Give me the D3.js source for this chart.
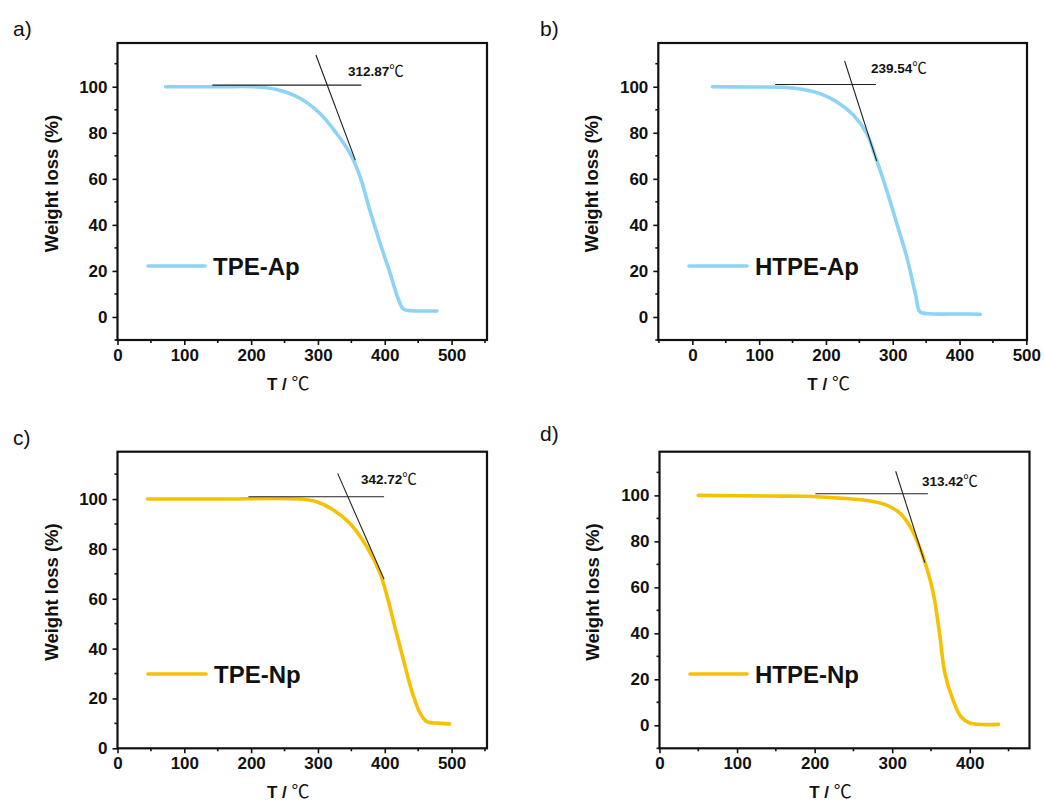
<!DOCTYPE html>
<html><head><meta charset="utf-8">
<script src="https://cdn.jsdelivr.net/npm/d3@7"></script>
<style>
body{margin:0;background:#fff}
text{font-family:"Liberation Sans",Arial,Helvetica,sans-serif}
</style>
</head><body>
<svg id="chart" width="1045" height="802"></svg>
<script>
// ---------- data ----------
const panelLabels = ["a)", "b)", "c)", "d)"];
const seriesNames = ["TPE-Ap", "HTPE-Ap", "TPE-Np", "HTPE-Np"];
const onsetLabels = ["312.87", "239.54", "342.72", "313.42"];
const xTicksAB = [0, 100, 200, 300, 400, 500];
const xTicksC = [0, 100, 200, 300, 400, 500];
const xTicksD = [0, 100, 200, 300, 400];
const yTicks = [0, 20, 40, 60, 80, 100];

const tpeApT = [72, 150, 203, 238, 273, 303, 328, 348, 363, 378, 393, 408, 420, 428, 440, 460, 478];
const tpeApW = [100, 100, 100, 98.8, 95, 88.4, 79.7, 71, 61, 46, 32, 19, 8, 3.4, 2.7, 2.6, 2.6];

const htpeApT = [30, 80, 141, 166, 191, 216, 241, 261, 276, 291, 306, 321, 334, 341, 356, 400, 431];
const htpeApW = [100, 99.9, 99.7, 98.8, 97, 93.5, 87.7, 79.7, 68, 55, 40.6, 26, 10, 2.2, 1.4, 1.3, 1.2];

const tpeNpT = [45, 150, 273, 298, 323, 348, 373, 393, 405, 415, 428, 440, 453, 463, 480, 497];
const tpeNpW = [100, 100, 100, 98.9, 95.6, 90.2, 80.9, 70.2, 59.5, 48.8, 35.4, 23.4, 14, 10.7, 10.1, 9.8];

const htpeNpT = [50, 146, 189, 232, 267, 292, 310, 323, 335, 344, 353, 361, 368, 378.5, 389, 400, 437];
const htpeNpW = [100, 99.7, 99.6, 98.8, 97.8, 95.9, 92.3, 86.5, 77.8, 69, 57.4, 40, 22.5, 10.9, 3.6, 1, 0.4];

// onset construction lines: [T1, W1, T2, W2]
const baselineLines = [[142, 100.7, 365, 100.7], [124, 101, 275, 101], [196, 100.9, 399, 100.9], [201, 100.7, 346, 100.7]];
const tangentLines = [[297, 113.8, 356, 68.1], [228, 111.2, 276, 67.7], [329.5, 110.3, 399, 67.8], [304.5, 110.5, 342, 70.8]];

const seriesT = [tpeApT, htpeApT, tpeNpT, htpeNpT];
const seriesW = [tpeApW, htpeApW, tpeNpW, htpeNpW];
const xTickSets = [xTicksAB, xTicksAB, xTicksC, xTicksD];

// ---------- layout ----------
const blue = "#8DD3F6", yellow = "#F6C104";
const layouts = [
  {l:117.5, r:487, t:43, b:340, xd:[0,553], yd:[-10,119], color:blue, lab:[13,36], ann:[348,76], leg:[148,205,266], yt:58},
  {l:658.3, r:1027, t:43, b:340, xd:[-51,501], yd:[-10,119], color:blue, lab:[540,36], ann:[871,73], leg:[689,747,266], yt:598},
  {l:117.5, r:487, t:451.7, b:748.3, xd:[0,553], yd:[0,119], color:yellow, lab:[13,445], ann:[361,484], leg:[148,206,674], yt:58},
  {l:659.5, r:1029.5, t:451.7, b:748.3, xd:[0,477], yd:[-10,119], color:yellow, lab:[540,441], ann:[922,486], leg:[690,747,674], yt:599}
];

const svg = d3.select("#chart");
svg.append("rect").attr("width",1045).attr("height",802).attr("fill","#fff");

layouts.forEach((L, i) => {
  const x = d3.scaleLinear().domain(L.xd).range([L.l, L.r]);
  const y = d3.scaleLinear().domain(L.yd).range([L.b, L.t]);
  const g = svg.append("g");

  // panel label
  g.append("text").attr("x", L.lab[0]).attr("y", L.lab[1])
    .attr("font-size", 21).attr("fill", "#111").text(panelLabels[i]);

  // minor ticks
  const xMinor = d3.range(Math.ceil((L.xd[0]-50)/100)*100+50, L.xd[1]+0.1, 100).filter(v => v >= L.xd[0]);
  const yMinor = d3.range(-10, L.yd[1]+0.1, 20).filter(v => v >= L.yd[0]);

  // x axis
  const xAxis = d3.axisBottom(x).tickValues(xTickSets[i]).tickSize(5).tickSizeOuter(0).tickPadding(4).tickFormat(d3.format("d"));
  const gx = g.append("g").attr("transform", `translate(0,${L.b})`).call(xAxis);
  gx.select(".domain").remove();
  gx.selectAll(".tick line").attr("stroke","#111").attr("stroke-width",1.6);
  gx.selectAll(".tick text").attr("font-size",17).attr("font-weight","bold").attr("fill","#111");
  g.append("g").selectAll("line").data(xMinor).join("line")
    .attr("x1", d => x(d)).attr("x2", d => x(d)).attr("y1", L.b).attr("y2", L.b+3)
    .attr("stroke","#111").attr("stroke-width",1.6);

  // y axis
  const yAxis = d3.axisLeft(y).tickValues(yTicks).tickSize(5).tickSizeOuter(0).tickPadding(5).tickFormat(d3.format("d"));
  const gy = g.append("g").attr("transform", `translate(${L.l},0)`).call(yAxis);
  gy.select(".domain").remove();
  gy.selectAll(".tick line").attr("stroke","#111").attr("stroke-width",1.6);
  gy.selectAll(".tick text").attr("font-size",17).attr("font-weight","bold").attr("fill","#111");
  g.append("g").selectAll("line").data(yMinor).join("line")
    .attr("x1", L.l-3).attr("x2", L.l).attr("y1", d => y(d)).attr("y2", d => y(d))
    .attr("stroke","#111").attr("stroke-width",1.6);

  // frame
  g.append("rect").attr("x", L.l).attr("y", L.t).attr("width", L.r-L.l).attr("height", L.b-L.t)
    .attr("fill","none").attr("stroke","#111").attr("stroke-width",2.2);

  // axis titles
  const xt = g.append("text").attr("x", (L.l+L.r)/2 - 14).attr("y", L.b+50)
    .attr("text-anchor","middle").attr("font-size",17).attr("fill","#111");
  xt.append("tspan").attr("font-weight","bold").text("T / ");
  xt.append("tspan").attr("font-family","'Noto Sans CJK SC'").attr("font-size",18).attr("font-weight","normal").text("℃");

  g.append("text").attr("transform", `translate(${L.yt},${(L.t+L.b)/2 - 8}) rotate(-90)`)
    .attr("text-anchor","middle").attr("font-size",18.5).attr("font-weight","bold").attr("fill","#111")
    .text("Weight loss (%)");

  // data curve
  const pts = seriesT[i].map((t, k) => [t, seriesW[i][k]]);
  const line = d3.line().x(d => x(d[0])).y(d => y(d[1])).curve(d3.curveCatmullRom.alpha(0.5));
  g.append("path").attr("d", line(pts)).attr("fill","none")
    .attr("stroke", L.color).attr("stroke-width", 3.6).attr("stroke-linecap","round").attr("stroke-linejoin","round");

  // onset construction
  const bl = baselineLines[i], tl = tangentLines[i];
  g.append("line").attr("x1", x(bl[0])).attr("y1", y(bl[1])).attr("x2", x(bl[2])).attr("y2", y(bl[3]))
    .attr("stroke","#222").attr("stroke-width",1.1);
  g.append("line").attr("x1", x(tl[0])).attr("y1", y(tl[1])).attr("x2", x(tl[2])).attr("y2", y(tl[3]))
    .attr("stroke","#222").attr("stroke-width",1.1);

  const at = g.append("text").attr("x", L.ann[0]).attr("y", L.ann[1]).attr("font-size",13.5).attr("fill","#111");
  at.append("tspan").attr("font-weight","bold").text(onsetLabels[i]);
  at.append("tspan").attr("font-family","'Noto Sans CJK SC'").attr("font-size",14.5).attr("font-weight","normal").text("℃");

  // legend
  g.append("line").attr("x1", L.leg[0]).attr("x2", L.leg[1]).attr("y1", L.leg[2]).attr("y2", L.leg[2])
    .attr("stroke", L.color).attr("stroke-width",3.6).attr("stroke-linecap","round");
  g.append("text").attr("x", L.leg[1]+8).attr("y", L.leg[2]+8.5)
    .attr("font-size",24).attr("font-weight","bold").attr("fill","#111").text(seriesNames[i]);
});
</script>
</body></html>
